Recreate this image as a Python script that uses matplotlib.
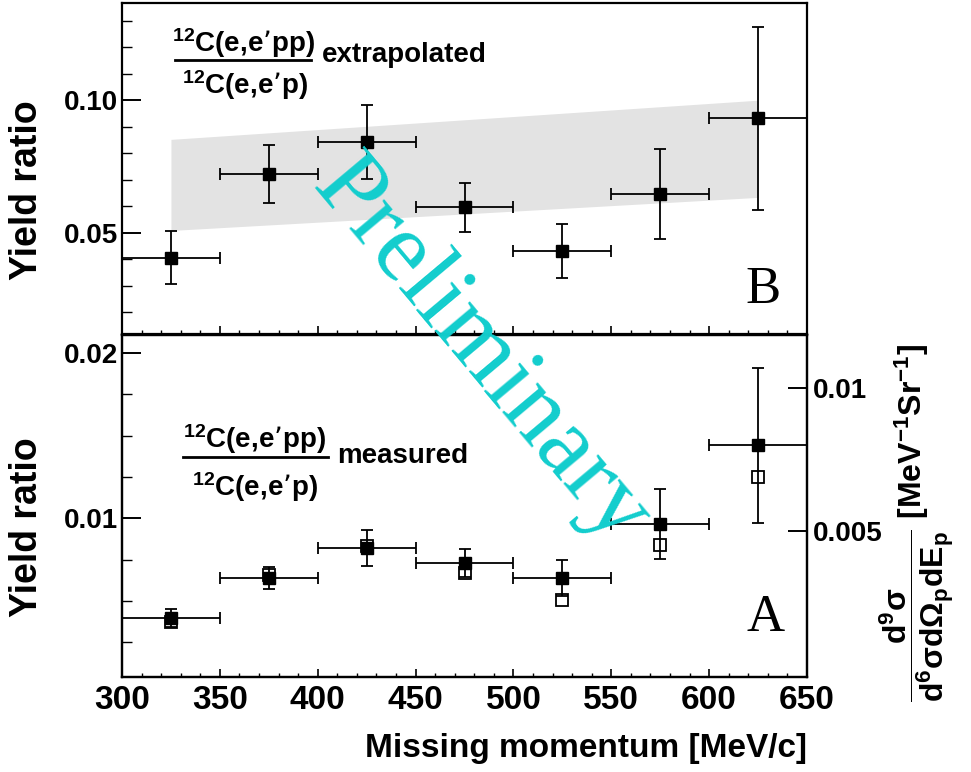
import numpy as np
import matplotlib
matplotlib.use("Agg")
import matplotlib.pyplot as plt
from matplotlib.ticker import MultipleLocator, FixedLocator, FixedFormatter

plt.rcParams['font.family'] = ['Liberation Sans', 'DejaVu Sans']
plt.rcParams['font.weight'] = 'bold'
plt.rcParams['mathtext.default'] = 'regular'

# Missing momentum bins [MeV/c]
pmiss = [325, 375, 425, 475, 525, 575, 625]
pmiss_err = [25, 25, 25, 25, 25, 25, 25]

# B: extrapolated 12C(e,e'pp)/12C(e,e'p)
ratio_extrap = [0.0405, 0.0720, 0.0841, 0.0595, 0.0432, 0.0644, 0.0932]
ratio_extrap_err = [0.0100, 0.0110, 0.0139, 0.0091, 0.0102, 0.0170, 0.0345]

# grey band (calculation)
band_x = [325, 625]
band_low = [0.0508, 0.0633]
band_high = [0.0852, 0.1000]

# A: measured ratio (filled) and cross section ratio (open)
ratio_meas = [0.00398, 0.00639, 0.00821, 0.00730, 0.00640, 0.00966, 0.01443]
ratio_meas_err = [0.00055, 0.00068, 0.00110, 0.00085, 0.00110, 0.00210, 0.00470]
ratio_open = [0.00374, 0.00655, 0.00833, 0.00670, 0.00508, 0.00839, 0.01250]

W, H = 971, 772
fig = plt.figure(figsize=(W / 100, H / 100), dpi=100)

x0, x1 = 122, 807
axB = fig.add_axes([x0 / W, 1 - 334 / H, (x1 - x0) / W, 331 / H])
axA = fig.add_axes([x0 / W, 1 - 677 / H, (x1 - x0) / W, 342 / H])

for ax in (axA, axB):
    ax.set_xlim(300, 650)
    for s in ax.spines.values():
        s.set_linewidth(1.6)
    ax.xaxis.set_major_locator(MultipleLocator(50))
    ax.xaxis.set_minor_locator(MultipleLocator(10))
    ax.tick_params(axis='x', which='major', direction='in', length=6, width=1.2, pad=6,
                   labelsize=24, top=False)
    ax.tick_params(axis='x', which='minor', direction='in', length=3, width=1.0, top=False)
    ax.tick_params(axis='y', which='major', direction='in', length=14, width=1.4, pad=3,
                   labelsize=20, right=False)
    ax.tick_params(axis='y', which='minor', direction='in', length=7, width=1.0, right=False)

# ---- top panel (B) ----
axB.fill_between(band_x, band_low, band_high, color='#e3e3e3', lw=0, zorder=1)
axB.errorbar(pmiss, ratio_extrap, xerr=pmiss_err, yerr=ratio_extrap_err, fmt='s',
             color='black', ms=8, elinewidth=1.3, capsize=4, capthick=1.3, zorder=3)
axB.set_ylim(0.0117, 0.1367)
axB.yaxis.set_major_locator(FixedLocator([0.05, 0.10]))
axB.yaxis.set_major_formatter(FixedFormatter(['0.05', '0.10']))
axB.yaxis.set_minor_locator(MultipleLocator(0.01))
axB.tick_params(axis='x', labelbottom=False)

axB.text(0.178, 0.879, "$^{12}$C(e,e’pp)", transform=axB.transAxes, ha='center', va='center',
         fontsize=20)
axB.plot([0.0774, 0.276], [0.828, 0.828], transform=axB.transAxes, color='black', lw=2.0)
axB.text(0.180, 0.752, "$^{12}$C(e,e’p)", transform=axB.transAxes, ha='center', va='center',
         fontsize=20)
axB.text(0.292, 0.843, "extrapolated", transform=axB.transAxes, ha='left', va='center',
         fontsize=20)
axB.text(0.936, 0.133, "B", transform=axB.transAxes, ha='center', va='center',
         fontsize=38, family='Liberation Serif', fontweight='normal')

# ---- bottom panel (A) ----
axA.errorbar(pmiss, ratio_meas, xerr=pmiss_err, yerr=ratio_meas_err, fmt='s',
             color='black', ms=8, elinewidth=1.3, capsize=4, capthick=1.3, zorder=3)
axA.plot(pmiss, ratio_open, 's', ms=8, mfc='none', mec='black', mew=1.3, zorder=4)
axA.set_ylim(0.0004, 0.0211)
axA.yaxis.set_major_locator(FixedLocator([0.01, 0.02]))
axA.yaxis.set_major_formatter(FixedFormatter(['0.01', '0.02']))
axA.yaxis.set_minor_locator(MultipleLocator(0.0025))

axA.text(0.194, 0.696, "$^{12}$C(e,e’pp)", transform=axA.transAxes, ha='center', va='center',
         fontsize=20)
axA.plot([0.089, 0.301], [0.643, 0.643], transform=axA.transAxes, color='black', lw=2.0)
axA.text(0.194, 0.556, "$^{12}$C(e,e’p)", transform=axA.transAxes, ha='center', va='center',
         fontsize=20)
axA.text(0.314, 0.646, "measured", transform=axA.transAxes, ha='left', va='center',
         fontsize=20)
axA.text(0.939, 0.173, "A", transform=axA.transAxes, ha='center', va='center',
         fontsize=38, family='Liberation Serif', fontweight='normal')

# right axis: cross section
axR = axA.twinx()
axR.set_ylim(-0.00014, 0.01187)
axR.yaxis.set_major_locator(FixedLocator([0.005, 0.01]))
axR.yaxis.set_major_formatter(FixedFormatter(['0.005', '0.01']))
axR.tick_params(axis='y', which='major', direction='in', length=14, width=1.4, pad=4,
                labelsize=20)
for s in axR.spines.values():
    s.set_linewidth(1.6)

# axis titles
fig.text(x1 / W, 1 - 749 / H, "Missing momentum [MeV/c]", ha='right', va='center', fontsize=24)
fig.text(27 / W, 1 - 190 / H, "Yield ratio", rotation=90, ha='center', va='center',
         fontsize=27)
fig.text(27 / W, 1 - 527 / H, "Yield ratio", rotation=90, ha='center', va='center',
         fontsize=27)
fig.text(917 / W, 1 - 523 / H,
         r"$\dfrac{d^{9}\sigma}{d^{6}\sigma d\Omega_{p}dE_{p}}$ [MeV$^{-1}$Sr$^{-1}$]",
         rotation=90, ha='center', va='center', fontsize=23)

# watermark
fig.text(480 / W, 1 - 352 / H, "Preliminary", rotation=-50, rotation_mode='anchor',
         ha='center', va='center', fontsize=72, family='Liberation Serif',
         fontweight='normal', color='#12cdcd', zorder=10)

fig.savefig("out.png", dpi=100)
